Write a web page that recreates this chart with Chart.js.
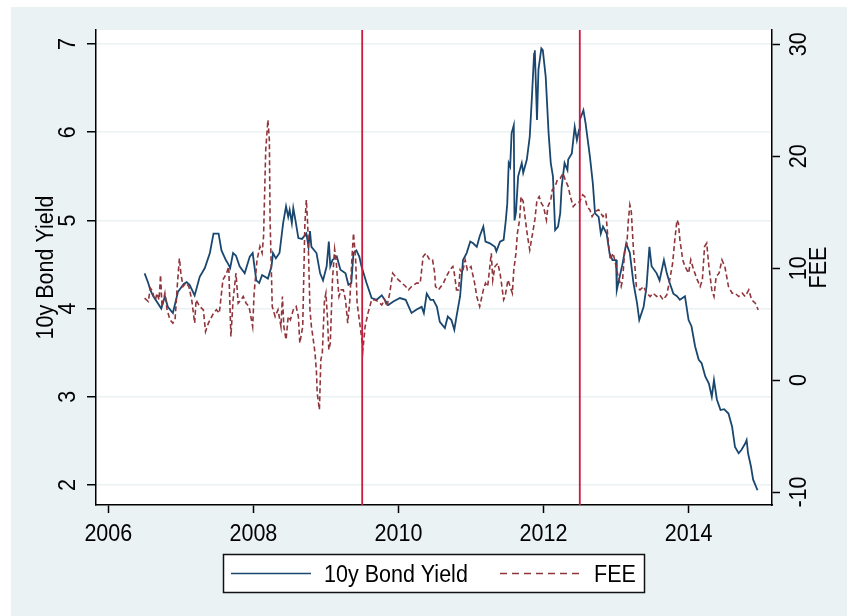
<!DOCTYPE html>
<html>
<head>
<meta charset="utf-8">
<script src="https://cdn.jsdelivr.net/npm/chart.js@4/dist/chart.umd.min.js"></script>
<style>
  html, body { margin: 0; padding: 0; background: #fff; }
  canvas { display: block; }
</style>
</head>
<body>
<canvas id="chart" width="847" height="616"></canvas>
<script>
// 10-year government bond yield (percent), dated in decimal years
const yieldDates = [
  2006.50, 2006.55, 2006.58, 2006.62, 2006.73, 2006.78, 2006.82, 2006.89, 2006.96, 2007.04,
  2007.08, 2007.12, 2007.19, 2007.26, 2007.33, 2007.40, 2007.45, 2007.52, 2007.56, 2007.62,
  2007.65, 2007.68, 2007.72, 2007.76, 2007.81, 2007.88, 2007.95, 2007.99, 2008.04, 2008.08,
  2008.12, 2008.20, 2008.25, 2008.27, 2008.31, 2008.36, 2008.41, 2008.45, 2008.48, 2008.50,
  2008.53, 2008.55, 2008.58, 2008.62, 2008.67, 2008.73, 2008.76, 2008.78, 2008.80, 2008.87,
  2008.92, 2008.96, 2009.01, 2009.04, 2009.06, 2009.09, 2009.15, 2009.20, 2009.27, 2009.31,
  2009.35, 2009.38, 2009.42, 2009.46, 2009.49, 2009.56, 2009.63, 2009.70, 2009.77, 2009.81,
  2009.86, 2009.93, 2010.02, 2010.10, 2010.18, 2010.25, 2010.32, 2010.35, 2010.39, 2010.44,
  2010.48, 2010.53, 2010.57, 2010.64, 2010.68, 2010.73, 2010.77, 2010.80, 2010.85, 2010.89,
  2010.94, 2010.99, 2011.03, 2011.08, 2011.12, 2011.17, 2011.20, 2011.26, 2011.33, 2011.35,
  2011.40, 2011.45, 2011.48, 2011.50, 2011.52, 2011.54, 2011.56, 2011.59, 2011.60, 2011.62,
  2011.65, 2011.70, 2011.72, 2011.77, 2011.81, 2011.84, 2011.87, 2011.88, 2011.91, 2011.93,
  2011.97, 2011.99, 2012.03, 2012.07, 2012.10, 2012.13, 2012.16, 2012.20, 2012.23, 2012.25,
  2012.29, 2012.33, 2012.34, 2012.39, 2012.43, 2012.46, 2012.49, 2012.50, 2012.55, 2012.58,
  2012.61, 2012.64, 2012.68, 2012.71, 2012.76, 2012.79, 2012.82, 2012.87, 2012.91, 2012.95,
  2013.00, 2013.01, 2013.06, 2013.09, 2013.14, 2013.19, 2013.24, 2013.29, 2013.32, 2013.38,
  2013.42, 2013.46, 2013.49, 2013.56, 2013.60, 2013.66, 2013.70, 2013.74, 2013.79, 2013.84,
  2013.88, 2013.95, 2014.00, 2014.04, 2014.09, 2014.14, 2014.18, 2014.23, 2014.28, 2014.32,
  2014.35, 2014.39, 2014.44, 2014.49, 2014.55, 2014.60, 2014.64, 2014.69, 2014.73, 2014.78,
  2014.80, 2014.82, 2014.86, 2014.89, 2014.91, 2014.95
];
const yieldValues = [
  4.40, 4.29, 4.21, 4.14, 4.00, 4.14, 4.02, 3.95, 4.19, 4.28,
  4.30, 4.27, 4.15, 4.36, 4.46, 4.63, 4.85, 4.85, 4.66, 4.55,
  4.51, 4.46, 4.63, 4.60, 4.48, 4.40, 4.59, 4.63, 4.32, 4.29,
  4.38, 4.34, 4.48, 4.63, 4.57, 4.63, 4.97, 5.16, 5.04, 5.12,
  4.97, 5.14, 5.00, 4.80, 4.79, 4.85, 4.70, 4.88, 4.70, 4.63,
  4.40, 4.32, 4.48, 4.76, 4.48, 4.55, 4.59, 4.44, 4.40, 4.27,
  4.29, 4.63, 4.66, 4.59, 4.48, 4.29, 4.12, 4.10, 4.15, 4.10,
  4.04, 4.08, 4.12, 4.10, 3.95, 3.99, 4.02, 3.95, 4.17, 4.10,
  4.10, 4.02, 3.85, 3.78, 3.91, 3.87, 3.76, 3.91, 4.14, 4.55,
  4.63, 4.76, 4.74, 4.70, 4.82, 4.93, 4.76, 4.74, 4.70, 4.65,
  4.76, 4.78, 5.00, 5.19, 5.65, 5.61, 5.99, 6.08, 5.00, 5.09,
  5.50, 5.65, 5.54, 5.69, 5.95, 6.40, 6.89, 6.93, 6.14, 6.71,
  6.95, 6.93, 6.63, 5.99, 5.65, 5.50, 4.89, 4.93, 5.08, 5.38,
  5.65, 5.57, 5.69, 5.76, 6.06, 5.91, 6.03, 6.14, 6.25, 6.10,
  5.91, 5.72, 5.42, 5.08, 5.04, 4.85, 4.93, 4.85, 4.63, 4.55,
  4.55, 4.21, 4.40, 4.51, 4.74, 4.63, 4.29, 4.06, 3.87, 4.02,
  4.25, 4.70, 4.48, 4.40, 4.32, 4.55, 4.40, 4.29, 4.17, 4.14,
  4.10, 4.14, 3.87, 3.80, 3.57, 3.42, 3.38, 3.23, 3.15, 3.00,
  3.19, 2.97, 2.85, 2.86, 2.81, 2.66, 2.43, 2.36, 2.40, 2.47,
  2.51, 2.36, 2.21, 2.06, 2.02, 1.94
];

// FEE measure, right-hand axis
const feeDates = [
  2006.50, 2006.55, 2006.58, 2006.61, 2006.63, 2006.65, 2006.67, 2006.70, 2006.72, 2006.74,
  2006.78, 2006.81, 2006.85, 2006.89, 2006.92, 2006.95, 2006.98, 2007.00, 2007.03, 2007.07,
  2007.11, 2007.15, 2007.19, 2007.21, 2007.26, 2007.31, 2007.34, 2007.38, 2007.45, 2007.49,
  2007.53, 2007.58, 2007.63, 2007.66, 2007.69, 2007.72, 2007.76, 2007.79, 2007.83, 2007.86,
  2007.90, 2007.94, 2007.99, 2008.01, 2008.05, 2008.09, 2008.12, 2008.14, 2008.17, 2008.20,
  2008.22, 2008.23, 2008.26, 2008.30, 2008.34, 2008.38, 2008.40, 2008.42, 2008.45, 2008.48,
  2008.51, 2008.55, 2008.59, 2008.62, 2008.64, 2008.68, 2008.71, 2008.73, 2008.75, 2008.78,
  2008.80, 2008.82, 2008.85, 2008.87, 2008.88, 2008.91, 2008.93, 2008.95, 2008.98, 2009.00,
  2009.02, 2009.04, 2009.06, 2009.09, 2009.12, 2009.14, 2009.16, 2009.18, 2009.21, 2009.24,
  2009.27, 2009.30, 2009.33, 2009.36, 2009.38, 2009.41, 2009.43, 2009.46, 2009.49, 2009.51,
  2009.54, 2009.58, 2009.63, 2009.67, 2009.72, 2009.77, 2009.81, 2009.84, 2009.88, 2009.92,
  2009.96, 2010.00, 2010.05, 2010.10, 2010.14, 2010.18, 2010.25, 2010.30, 2010.34, 2010.38,
  2010.43, 2010.47, 2010.50, 2010.51, 2010.55, 2010.62, 2010.66, 2010.71, 2010.75, 2010.77,
  2010.80, 2010.83, 2010.85, 2010.88, 2010.92, 2010.95, 2011.00, 2011.05, 2011.08, 2011.12,
  2011.17, 2011.20, 2011.23, 2011.28, 2011.30, 2011.33, 2011.37, 2011.40, 2011.42, 2011.45,
  2011.47, 2011.51, 2011.54, 2011.57, 2011.59, 2011.62, 2011.64, 2011.67, 2011.69, 2011.72,
  2011.75, 2011.78, 2011.81, 2011.85, 2011.88, 2011.91, 2011.94, 2011.97, 2012.00, 2012.04,
  2012.06, 2012.10, 2012.12, 2012.16, 2012.19, 2012.23, 2012.27, 2012.30, 2012.34, 2012.37,
  2012.41, 2012.45, 2012.47, 2012.50, 2012.54, 2012.57, 2012.60, 2012.64, 2012.67, 2012.71,
  2012.76, 2012.79, 2012.82, 2012.86, 2012.89, 2012.92, 2012.96, 2013.00, 2013.03, 2013.07,
  2013.09, 2013.12, 2013.15, 2013.17, 2013.19, 2013.21, 2013.24, 2013.26, 2013.28, 2013.33,
  2013.38, 2013.42, 2013.47, 2013.51, 2013.56, 2013.60, 2013.65, 2013.70, 2013.74, 2013.78,
  2013.81, 2013.84, 2013.86, 2013.88, 2013.92, 2013.95, 2014.00, 2014.03, 2014.07, 2014.12,
  2014.16, 2014.19, 2014.22, 2014.25, 2014.28, 2014.32, 2014.35, 2014.38, 2014.42, 2014.46,
  2014.50, 2014.55, 2014.60, 2014.64, 2014.69, 2014.74, 2014.78, 2014.83, 2014.87, 2014.92,
  2014.96
];
const feeValues = [
  7.32, 7.02, 8.21, 7.96, 7.32, 7.17, 7.77, 7.17, 9.40, 6.57,
  7.77, 6.28, 5.39, 5.09, 5.39, 8.36, 10.89, 9.55, 8.36, 8.66,
  8.36, 7.17, 5.09, 7.17, 6.57, 6.28, 4.34, 5.09, 5.98, 6.28,
  5.98, 8.95, 9.55, 10.15, 3.89, 7.17, 9.55, 6.87, 7.17, 7.47,
  6.87, 6.57, 4.78, 7.77, 10.74, 11.93, 11.34, 12.82, 20.56, 23.24,
  21.45, 14.31, 6.57, 5.68, 6.28, 4.78, 7.47, 4.78, 3.60, 5.68,
  5.39, 6.28, 6.57, 5.68, 3.30, 4.78, 14.02, 16.10, 13.72, 6.28,
  4.78, 3.89, 2.41, 0.63, -1.16, -2.65, 1.81, 2.41, 7.17, 7.77,
  5.68, 2.71, 3.30, 8.95, 11.70, 10.74, 8.95, 7.47, 8.06, 8.06,
  7.17, 5.09, 7.17, 11.04, 13.13, 10.74, 6.87, 5.39, 3.89, 2.71,
  4.78, 5.98, 7.17, 7.17, 7.02, 6.72, 7.17, 6.57, 7.77, 9.55,
  9.25, 8.95, 8.66, 8.36, 8.06, 8.36, 8.66, 8.66, 11.04, 11.34,
  10.74, 10.74, 9.55, 8.36, 8.06, 8.66, 9.25, 9.85, 10.15, 9.55,
  8.06, 8.06, 9.85, 9.55, 10.74, 9.85, 10.15, 8.66, 7.47, 6.57,
  8.06, 8.66, 8.36, 11.34, 8.95, 10.15, 10.44, 9.55, 8.66, 7.17,
  7.47, 8.95, 8.36, 7.77, 9.85, 11.34, 13.13, 14.31, 16.39, 15.95,
  14.31, 12.82, 11.63, 13.13, 14.31, 16.10, 16.39, 15.80, 15.50, 14.31,
  15.50, 16.10, 17.00, 17.29, 17.88, 18.03, 18.48, 17.88, 17.29, 16.39,
  15.50, 15.80, 15.80, 15.95, 16.55, 16.39, 15.50, 15.21, 14.61, 15.06,
  15.21, 14.91, 14.61, 14.91, 12.53, 10.74, 11.34, 10.15, 9.25, 8.36,
  8.95, 11.63, 12.23, 14.31, 15.65, 15.06, 11.63, 10.15, 8.36, 8.06,
  8.36, 7.77, 7.47, 7.77, 7.47, 7.62, 7.17, 7.62, 8.95, 10.44,
  12.53, 14.31, 14.02, 12.53, 10.74, 10.15, 9.55, 10.74, 9.85, 8.95,
  8.36, 8.95, 11.93, 12.23, 10.15, 8.06, 7.47, 9.25, 9.55, 10.74,
  10.15, 8.36, 7.77, 7.77, 7.47, 7.77, 7.47, 8.06, 7.17, 6.87,
  6.28
];

const seriesNames = ['10y Bond Yield', 'FEE'];
const yearTicks = [2006, 2008, 2010, 2012, 2014];
const yieldTicks = [2, 3, 4, 5, 6, 7];
const feeTicks = [-10, 0, 10, 20, 30];
const eventDates = [2009.5, 2012.5];

const NAVY = '#1a476f';
const MAROON = '#90353b';
const EVENT_RED = '#cc1a3f';
const REGION_BG = '#eaf2f3';
const FONT = '"Liberation Sans", Arial, Helvetica, sans-serif';
const FONT_SIZE = 21.5;
const GLYPH_STRETCH = 1.12;

function drawLabel(ctx, text, x, y, angle, align) {
  ctx.save();
  ctx.translate(x, y);
  ctx.rotate(angle);
  ctx.scale(1, GLYPH_STRETCH);
  ctx.font = FONT_SIZE + 'px ' + FONT;
  ctx.fillStyle = '#000';
  ctx.textAlign = align || 'center';
  ctx.textBaseline = 'alphabetic';
  ctx.fillText(text, 0, 0);
  ctx.restore();
}

const fixedTicks = list => scale => { scale.ticks = list.map(v => ({ value: v })); };

const frame = {
  id: 'frame',
  beforeDraw(chart) {
    const { ctx, chartArea: a, width, height } = chart;
    ctx.save();
    ctx.fillStyle = '#fff';
    ctx.fillRect(0, 0, width, height);
    ctx.fillStyle = REGION_BG;
    ctx.fillRect(11, 7, width - 11, height - 7);
    ctx.fillStyle = '#fff';
    ctx.fillRect(a.left, a.top, a.right - a.left, a.bottom - a.top);
    ctx.restore();
  },
  afterDatasetsDraw(chart) {
    const { ctx, chartArea: a, scales } = chart;
    ctx.save();
    ctx.strokeStyle = EVENT_RED;
    ctx.lineWidth = 1.8;
    eventDates.forEach(d => {
      const x = scales.x.getPixelForValue(d);
      ctx.beginPath();
      ctx.moveTo(x, a.top);
      ctx.lineTo(x, a.bottom);
      ctx.stroke();
    });
    ctx.restore();
  },
  afterDraw(chart) {
    const { ctx, chartArea: a, scales } = chart;
    const up = -Math.PI / 2;
    const midY = (a.top + a.bottom) / 2;

    yearTicks.forEach(t => drawLabel(ctx, String(t), scales.x.getPixelForValue(t), a.bottom + 36, 0));
    yieldTicks.forEach(v => drawLabel(ctx, String(v), a.left - 21, scales.y.getPixelForValue(v), up));
    feeTicks.forEach(v => drawLabel(ctx, String(v), a.right + 34, scales.y2.getPixelForValue(v), up));

    drawLabel(ctx, seriesNames[0], a.left - 43, midY, up);
    drawLabel(ctx, seriesNames[1], a.right + 54, midY, up);

    // legend box below the axis
    const cx = (a.left + a.right) / 2;
    const bw = 422, bh = 39;
    const bx = Math.round(cx - bw / 2), by = a.bottom + 49;
    ctx.save();
    ctx.fillStyle = '#fff';
    ctx.fillRect(bx, by, bw, bh);
    ctx.strokeStyle = '#111';
    ctx.lineWidth = 1.5;
    ctx.strokeRect(bx + 0.5, by + 0.5, bw - 1, bh - 1);

    const ly = by + 19.5;
    const ds = chart.data.datasets;
    ctx.lineWidth = 1.6;
    ctx.strokeStyle = ds[0].borderColor;
    ctx.beginPath(); ctx.moveTo(bx + 8, ly); ctx.lineTo(bx + 88, ly); ctx.stroke();
    ctx.strokeStyle = ds[1].borderColor;
    ctx.setLineDash([7, 5]);
    ctx.beginPath(); ctx.moveTo(bx + 277, ly); ctx.lineTo(bx + 360, ly); ctx.stroke();
    ctx.setLineDash([]);
    ctx.restore();
    drawLabel(ctx, ds[0].label, bx + 101, by + 28, 0, 'left');
    drawLabel(ctx, ds[1].label, bx + 371, by + 28, 0, 'left');
  }
};

const toPoints = (xs, ys) => xs.map((x, i) => ({ x, y: ys[i] }));

new Chart(document.getElementById('chart'), {
  type: 'line',
  data: {
    datasets: [
      {
        label: seriesNames[0],
        data: toPoints(yieldDates, yieldValues),
        yAxisID: 'y',
        borderColor: NAVY,
        borderWidth: 1.8,
        pointRadius: 0,
        tension: 0,
        order: 1
      },
      {
        label: seriesNames[1],
        data: toPoints(feeDates, feeValues),
        yAxisID: 'y2',
        borderColor: MAROON,
        borderWidth: 1.6,
        borderDash: [5, 3],
        pointRadius: 0,
        tension: 0,
        order: 0
      }
    ]
  },
  options: {
    responsive: false,
    animation: false,
    events: [],
    layout: { padding: { top: 30, left: 0, right: 0, bottom: 0 } },
    plugins: { legend: { display: false }, tooltip: { enabled: false } },
    scales: {
      x: {
        type: 'linear',
        min: 2005.83,
        max: 2015.15,
        afterBuildTicks: fixedTicks(yearTicks),
        afterFit: s => { s.height = 111; },
        ticks: { display: false },
        grid: { drawOnChartArea: false, drawTicks: true, tickLength: 8, tickColor: '#000', tickWidth: 1.5 },
        border: { display: true, color: '#000', width: 1.5 }
      },
      y: {
        type: 'linear',
        position: 'left',
        min: 1.773,
        max: 7.159,
        afterBuildTicks: fixedTicks(yieldTicks),
        afterFit: s => { s.width = 96; },
        ticks: { display: false },
        grid: { color: REGION_BG, lineWidth: 1.5, drawTicks: true, tickLength: 9, tickColor: '#000', tickWidth: 1.5 },
        border: { display: true, color: '#000', width: 1.5 }
      },
      y2: {
        type: 'linear',
        position: 'right',
        min: -11.16,
        max: 31.28,
        afterBuildTicks: fixedTicks(feeTicks),
        afterFit: s => { s.width = 75; },
        ticks: { display: false },
        grid: { drawOnChartArea: false, drawTicks: true, tickLength: 8, tickColor: '#000', tickWidth: 1.5 },
        border: { display: true, color: '#000', width: 1.5 }
      }
    }
  },
  plugins: [frame]
});
</script>
</body>
</html>
